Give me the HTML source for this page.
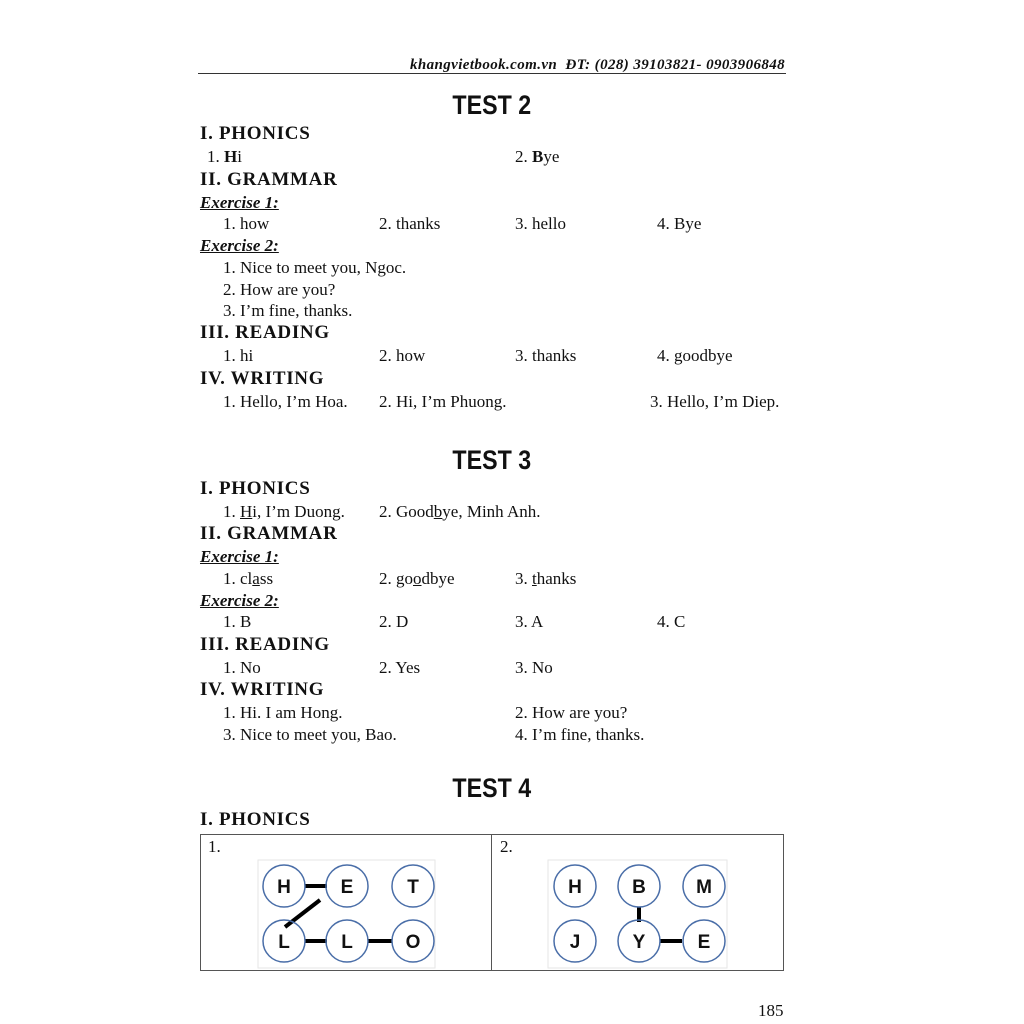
<!DOCTYPE html>
<html><head><meta charset="utf-8"><style>
body{margin:0;width:1024px;height:1024px;background:#fff;position:relative;font-family:"Liberation Serif",serif;color:#111;overflow:hidden}
.t{position:absolute;font-size:17px;line-height:18px;white-space:nowrap}
.h{position:absolute;font-size:19px;line-height:20px;font-weight:bold;white-space:nowrap;letter-spacing:0.7px}
.e{position:absolute;font-size:17px;line-height:18px;font-weight:bold;font-style:italic;text-decoration:underline;white-space:nowrap}
.T{position:absolute;width:1024px;left:-20px;text-align:center;font-family:"Liberation Sans",sans-serif;font-weight:bold;font-size:27px;line-height:30px}
.T span{display:inline-block;transform:scaleX(0.86)}
</style></head><body>
<div class="t" style="left:410px;top:56px;font-weight:bold;font-style:italic;font-size:15px;letter-spacing:0.4px;transform:scaleX(1.0)">khangvietbook.com.vn&nbsp; ĐT: (028) 39103821- 0903906848</div>
<div style="position:absolute;left:198px;top:73px;width:588px;height:1px;background:#333"></div>

<div class="T" style="top:90px"><span>TEST 2</span></div>
<div class="h" style="left:200px;top:124px">I. PHONICS</div>
<div class="t" style="left:207px;top:148px">1. <b>H</b>i</div>
<div class="t" style="left:515px;top:148px">2. <b>B</b>ye</div>
<div class="h" style="left:200px;top:170px">II. GRAMMAR</div>
<div class="e" style="left:200px;top:194px">Exercise 1:</div>
<div class="t" style="left:223px;top:215px">1. how</div><div class="t" style="left:379px;top:215px">2. thanks</div><div class="t" style="left:515px;top:215px">3. hello</div><div class="t" style="left:657px;top:215px">4. Bye</div>
<div class="e" style="left:200px;top:237px">Exercise 2:</div>
<div class="t" style="left:223px;top:259px">1. Nice to meet you, Ngoc.</div>
<div class="t" style="left:223px;top:281px">2. How are you?</div>
<div class="t" style="left:223px;top:302px">3. I’m fine, thanks.</div>
<div class="h" style="left:200px;top:323px">III. READING</div>
<div class="t" style="left:223px;top:347px">1. hi</div><div class="t" style="left:379px;top:347px">2. how</div><div class="t" style="left:515px;top:347px">3. thanks</div><div class="t" style="left:657px;top:347px">4. goodbye</div>
<div class="h" style="left:200px;top:369px">IV. WRITING</div>
<div class="t" style="left:223px;top:393px">1. Hello, I’m Hoa.</div><div class="t" style="left:379px;top:393px">2. Hi, I’m Phuong.</div><div class="t" style="left:650px;top:393px">3. Hello, I’m Diep.</div>

<div class="T" style="top:445px"><span>TEST 3</span></div>
<div class="h" style="left:200px;top:479px">I. PHONICS</div>
<div class="t" style="left:223px;top:503px">1. <u>H</u>i, I’m Duong.</div><div class="t" style="left:379px;top:503px">2. Good<u>b</u>ye, Minh Anh.</div>
<div class="h" style="left:200px;top:524px">II. GRAMMAR</div>
<div class="e" style="left:200px;top:548px">Exercise 1:</div>
<div class="t" style="left:223px;top:570px">1. cl<u>a</u>ss</div><div class="t" style="left:379px;top:570px">2. go<u>o</u>dbye</div><div class="t" style="left:515px;top:570px">3. <u>t</u>hanks</div>
<div class="e" style="left:200px;top:592px">Exercise 2:</div>
<div class="t" style="left:223px;top:613px">1. B</div><div class="t" style="left:379px;top:613px">2. D</div><div class="t" style="left:515px;top:613px">3. A</div><div class="t" style="left:657px;top:613px">4. C</div>
<div class="h" style="left:200px;top:635px">III. READING</div>
<div class="t" style="left:223px;top:659px">1. No</div><div class="t" style="left:379px;top:659px">2. Yes</div><div class="t" style="left:515px;top:659px">3. No</div>
<div class="h" style="left:200px;top:680px">IV. WRITING</div>
<div class="t" style="left:223px;top:704px">1. Hi. I am Hong.</div><div class="t" style="left:515px;top:704px">2. How are you?</div>
<div class="t" style="left:223px;top:726px">3. Nice to meet you, Bao.</div><div class="t" style="left:515px;top:726px">4. I’m fine, thanks.</div>

<div class="T" style="top:773px"><span>TEST 4</span></div>
<div class="h" style="left:200px;top:810px">I. PHONICS</div>
<div style="position:absolute;left:200px;top:834px;width:582px;height:135px;border:1px solid #555"></div>
<div style="position:absolute;left:491px;top:834px;width:1px;height:137px;background:#555"></div>
<div class="t" style="left:208px;top:838px">1.</div>
<div class="t" style="left:500px;top:838px">2.</div>
<svg style="position:absolute;left:0;top:0" width="1024" height="1024" font-family="Liberation Sans,sans-serif" font-weight="bold" font-size="19">
<rect x="258" y="860" width="177" height="108" fill="none" stroke="#e6e6e6"/>
<rect x="548" y="860" width="179" height="108" fill="none" stroke="#e6e6e6"/>
<g stroke="#000" stroke-width="4">
<line x1="305" y1="886" x2="327" y2="886"/><line x1="320" y1="900" x2="285" y2="927"/>
<line x1="305" y1="941" x2="327" y2="941"/><line x1="368" y1="941" x2="392" y2="941"/>
<line x1="639" y1="907" x2="639" y2="922"/><line x1="660" y1="941" x2="682" y2="941"/>
</g>
<g fill="none" stroke="#4a6ea8" stroke-width="1.5">
<circle cx="284" cy="886" r="21"/><circle cx="347" cy="886" r="21"/><circle cx="413" cy="886" r="21"/>
<circle cx="284" cy="941" r="21"/><circle cx="347" cy="941" r="21"/><circle cx="413" cy="941" r="21"/>
<circle cx="575" cy="886" r="21"/><circle cx="639" cy="886" r="21"/><circle cx="704" cy="886" r="21"/>
<circle cx="575" cy="941" r="21"/><circle cx="639" cy="941" r="21"/><circle cx="704" cy="941" r="21"/>
</g>
<g text-anchor="middle" fill="#111">
<text x="284" y="893">H</text><text x="347" y="893">E</text><text x="413" y="893">T</text>
<text x="284" y="948">L</text><text x="347" y="948">L</text><text x="413" y="948">O</text>
<text x="575" y="893">H</text><text x="639" y="893">B</text><text x="704" y="893">M</text>
<text x="575" y="948">J</text><text x="639" y="948">Y</text><text x="704" y="948">E</text>
</g>
</svg>
<div class="t" style="left:758px;top:1002px">185</div>
</body></html>
